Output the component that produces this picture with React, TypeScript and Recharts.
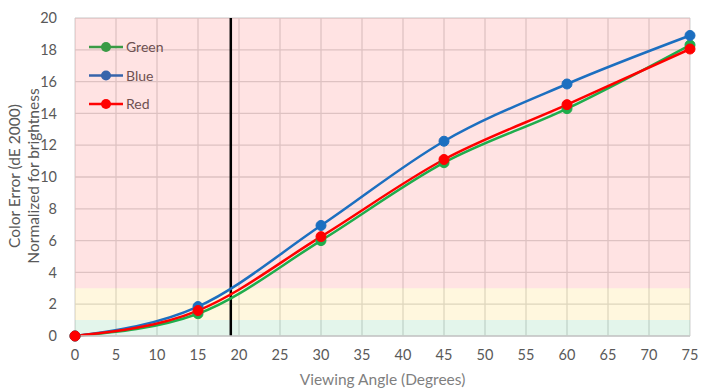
import React from "react";
import {
  LineChart,
  Line,
  XAxis,
  YAxis,
  CartesianGrid,
  ReferenceArea,
  ReferenceLine,
} from "recharts";

const angles = [0, 15, 30, 45, 60, 75];
const green = [0, 1.4, 6.0, 10.9, 14.3, 18.3];
const blue = [0, 1.85, 6.95, 12.25, 15.85, 18.9];
const red = [0, 1.6, 6.25, 11.1, 14.55, 18.05];
const xTicks = [0, 5, 10, 15, 20, 25, 30, 35, 40, 45, 50, 55, 60, 65, 70, 75];
const yTicks = [0, 2, 4, 6, 8, 10, 12, 14, 16, 18, 20];
const markerAngle = 19;

const data = angles.map((a, i) => ({ angle: a, Green: green[i], Blue: blue[i], Red: red[i] }));

const FONT = "Lato, 'Open Sans', sans-serif";
const GREEN = "#1fad4c";
const BLUE = "#1c6fc0";
const RED = "#ff0000";

const series = [
  { key: "Green", color: GREEN },
  { key: "Blue", color: BLUE },
  { key: "Red", color: RED },
];

const LegendBox = () => (
  <g transform="translate(89, 38)">
    {series.map((s, i) => (
      <g key={s.key} transform={`translate(0, ${i * 28.5})`}>
        <line x1={0} y1={9} x2={34} y2={9} stroke={s.color} strokeWidth={2.5} />
        <circle cx={17} cy={9} r={5} fill={s.color} />
        <text x={37} y={14} fontFamily={FONT} fontSize={14} fill="#595959">
          {s.key}
        </text>
      </g>
    ))}
  </g>
);

const YLabel = () => (
  <g>
    <text
      transform="translate(20, 176) rotate(-90)"
      textAnchor="middle"
      fontFamily={FONT}
      fontSize={15.5}
      fill="#595959"
    >
      Color Error (dE 2000)
    </text>
    <text
      transform="translate(39, 176) rotate(-90)"
      textAnchor="middle"
      fontFamily={FONT}
      fontSize={15.5}
      fill="#595959"
    >
      Normalized for brightness
    </text>
  </g>
);

export default function App() {
  return (
    <div style={{ position: "absolute", left: 0, top: 0, width: 717, height: 390, background: "#fff" }}>
      <LineChart width={717} height={390} data={data} margin={{ top: 18, right: 27, left: 30, bottom: 24 }}>
        <CartesianGrid stroke="#dadada" strokeWidth={1.3} />
        <ReferenceArea y1={3} y2={20} fill="#ff1a1a" fillOpacity={0.12} stroke="none" />
        <ReferenceArea y1={1} y2={3} fill="#ffc000" fillOpacity={0.13} stroke="none" />
        <ReferenceArea y1={0} y2={1} fill="#00a84a" fillOpacity={0.11} stroke="none" />
        <XAxis
          dataKey="angle"
          type="number"
          domain={[0, 75]}
          ticks={xTicks}
          interval={0}
          tick={{ fontFamily: FONT, fontSize: 14.5, fill: "#595959" }}
          tickLine={false}
          axisLine={{ stroke: "#c8c8c8", strokeWidth: 1.5 }}
          tickMargin={8}
          height={30}
          label={{
            value: "Viewing Angle (Degrees)",
            position: "insideBottom",
            offset: -19,
            fontFamily: FONT,
            fontSize: 15.5,
            fill: "#7f7f7f",
          }}
        />
        <YAxis
          type="number"
          domain={[0, 20]}
          ticks={yTicks}
          interval={0}
          tick={{ fontFamily: FONT, fontSize: 14.5, fill: "#595959" }}
          tickLine={false}
          axisLine={false}
          tickMargin={12}
          width={45}
        />
        <ReferenceLine x={markerAngle} stroke="#000" strokeWidth={2.5} />
        {series.map((s) => (
          <Line
            key={s.key}
            type="monotone"
            dataKey={s.key}
            stroke={s.color}
            strokeWidth={2.5}
            dot={{ r: 5, fill: s.color, stroke: s.color, strokeWidth: 1 }}
            activeDot={false}
            isAnimationActive={false}
          />
        ))}
        <LegendBox />
        <YLabel />
      </LineChart>
    </div>
  );
}
